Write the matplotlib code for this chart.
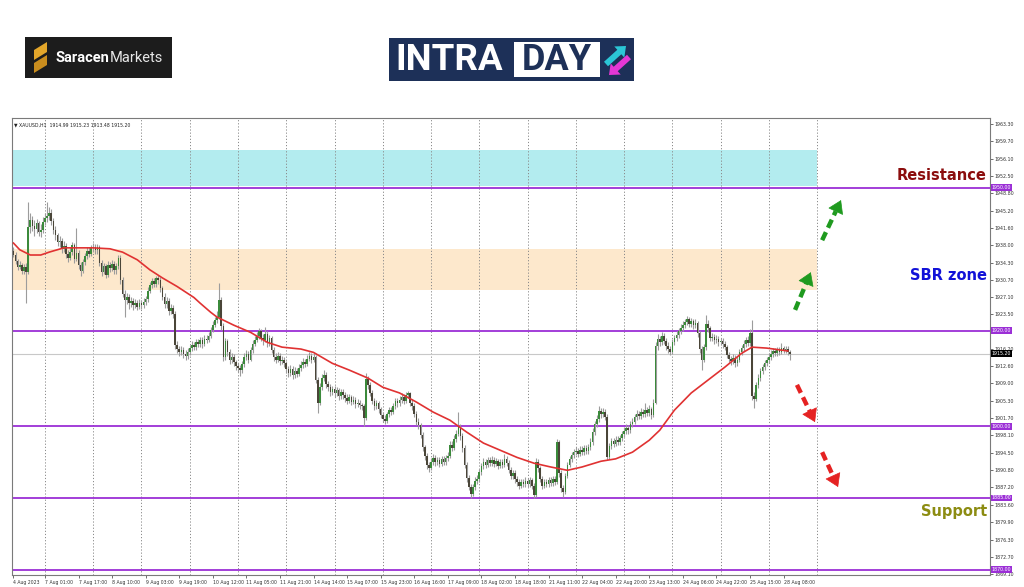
"""XAUUSD H1 intraday chart with zones, levels and arrows."""
import matplotlib

matplotlib.use("Agg")
import matplotlib.pyplot as plt
import numpy as np
from matplotlib.patches import FancyArrow, Polygon, Rectangle
from matplotlib.transforms import blended_transform_factory

# ---- data ------------------------------------------------------------------
OPEN_FIRST = 1936.8
CLOSE = [
    # 4 Aug 09:00 - 23:00
    1936.0, 1934.6, 1933.4, 1933.9, 1932.6, 1933.3, 1932.4, 1941.8, 1943.2, 1942.0,
    1941.3, 1942.6, 1940.8, 1941.2, 1942.9,
    # 7 Aug
    1943.6, 1944.1, 1944.8, 1943.0, 1941.2, 1940.0, 1938.6, 1938.9, 1937.2, 1937.8,
    1936.1, 1935.2, 1936.6, 1937.9, 1935.0, 1936.4, 1933.8, 1932.6, 1934.4, 1935.6,
    1936.8, 1936.2, 1937.3,
    # 8 Aug
    1937.6, 1936.9, 1937.5, 1934.2, 1932.4, 1933.6, 1931.8, 1933.9, 1933.1, 1934.0,
    1932.7, 1933.5, 1935.3, 1930.6, 1927.8, 1926.4, 1927.2, 1925.8, 1926.3, 1925.4,
    1925.9, 1925.1, 1925.8,
    # 9 Aug
    1925.4, 1926.0, 1926.6, 1928.4, 1929.6, 1930.4, 1929.8, 1931.0, 1930.6, 1928.9,
    1927.2, 1925.6, 1926.3, 1924.2, 1924.8, 1923.6, 1917.0, 1916.2, 1915.6, 1916.0,
    1915.2, 1914.8, 1915.6,
    # 10 Aug
    1916.4, 1917.0, 1916.6, 1917.6, 1917.3, 1918.0, 1917.2, 1918.4, 1918.1, 1919.0,
    1920.2, 1921.3, 1922.3, 1923.0, 1926.5, 1921.0, 1914.6, 1917.8, 1915.6, 1913.9,
    1914.6, 1913.4, 1912.6,
    # 11 Aug
    1912.2, 1911.8, 1913.0, 1914.6, 1915.2, 1914.0, 1916.0, 1917.3, 1918.2, 1918.9,
    1919.9, 1918.6, 1918.1, 1919.3, 1917.4, 1918.5, 1916.0, 1914.5, 1914.0, 1914.8,
    1913.6, 1913.9, 1913.2,
    # 14 Aug
    1912.0, 1911.2, 1912.1, 1910.8, 1911.6, 1911.0, 1912.3, 1912.9, 1913.5, 1913.1,
    1914.2, 1914.8, 1914.0, 1914.6, 1909.8, 1905.0, 1908.2, 1910.2, 1910.8, 1908.9,
    1908.2, 1907.1, 1907.8,
    # 15 Aug
    1907.0, 1907.6, 1906.4, 1907.2, 1906.5, 1906.0, 1905.4, 1906.1, 1905.2, 1905.6,
    1904.6, 1905.0, 1904.4, 1904.2, 1901.8, 1909.9, 1908.6, 1907.0, 1905.3, 1904.2,
    1904.9, 1903.6, 1902.4,
    # 16 Aug
    1901.6, 1901.2, 1902.5, 1903.4, 1903.0, 1904.2, 1905.3, 1904.8, 1905.6, 1906.2,
    1905.4, 1906.5, 1906.9, 1905.0, 1904.2, 1902.6, 1901.0, 1900.2, 1898.3, 1895.6,
    1893.8, 1891.9, 1891.3,
    # 17 Aug
    1892.6, 1893.4, 1892.5, 1892.9, 1892.2, 1893.1, 1892.6, 1893.4, 1893.9, 1896.2,
    1895.5, 1897.4, 1898.5, 1899.9, 1898.0, 1895.4, 1892.0, 1889.2, 1887.4, 1885.9,
    1887.3, 1888.6, 1889.0,
    # 18 Aug
    1890.4, 1891.6, 1892.6, 1892.0, 1892.9, 1892.3, 1893.0, 1892.2, 1892.7, 1891.8,
    1892.5, 1892.0, 1893.2, 1892.4, 1890.9, 1889.6, 1890.2, 1888.9, 1888.4, 1887.6,
    1888.3, 1887.9, 1888.6,
    # 21 Aug
    1888.0, 1888.7, 1887.6, 1885.6, 1892.6, 1891.2, 1889.0, 1887.6, 1888.3, 1887.9,
    1888.8, 1888.2, 1889.0, 1888.4, 1896.8, 1890.2, 1887.0, 1886.3, 1889.6, 1891.9,
    1893.2, 1894.0, 1894.6,
    # 22 Aug
    1894.9, 1894.3, 1895.1, 1894.7, 1895.4, 1894.9, 1895.6, 1896.8, 1898.9, 1900.4,
    1901.6, 1903.2, 1902.5, 1903.1, 1902.0, 1893.6, 1895.8, 1896.9, 1896.4, 1897.2,
    1896.8, 1897.6, 1898.4,
    # 23 Aug
    1899.0, 1899.6, 1899.2, 1900.4, 1901.0, 1901.9, 1902.6, 1902.2, 1903.0, 1902.6,
    1903.4, 1902.8, 1903.6, 1902.4, 1905.0, 1916.8, 1918.4, 1917.6, 1919.0, 1917.9,
    1916.9, 1916.2, 1915.6,
    # 24 Aug
    1917.6, 1918.5, 1919.2, 1919.9, 1920.6, 1921.3, 1921.8, 1922.4, 1921.5, 1922.0,
    1921.2, 1921.6, 1919.5, 1916.2, 1914.0, 1916.6, 1921.5, 1920.6, 1918.5, 1918.8,
    1918.0, 1918.4, 1917.6,
    # 25 Aug
    1917.9, 1917.2, 1916.6, 1915.0, 1914.2, 1913.6, 1914.4, 1913.2, 1914.0, 1915.6,
    1916.4, 1917.2, 1918.0, 1917.4, 1919.6, 1906.4, 1905.8, 1908.6, 1910.2, 1911.6,
    1912.4, 1913.2, 1913.9,
    # 28 Aug 01:00 - 11:00
    1914.6, 1915.2, 1915.8, 1915.3, 1916.0, 1915.6, 1916.4, 1915.9, 1916.2, 1915.6,
    1915.2,
]
HIGH = [
    1937.6, 1936.5, 1935.0, 1934.6, 1934.3, 1934.0, 1934.2, 1946.9, 1944.6, 1944.0,
    1943.2, 1943.5, 1943.0, 1942.3, 1943.8,
    1944.8, 1947.1, 1945.9, 1945.6, 1943.6, 1941.9, 1940.6, 1939.8, 1939.5, 1938.8,
    1938.4, 1936.9, 1937.5, 1938.7, 1938.4, 1941.6, 1936.9, 1934.5, 1935.1, 1936.3,
    1937.5, 1937.6, 1938.1,
    1938.4, 1938.2, 1938.3, 1938.0, 1934.8, 1934.3, 1934.1, 1934.6, 1934.5, 1934.8,
    1934.6, 1934.3, 1936.0, 1935.8, 1931.2, 1928.5, 1928.0, 1927.8, 1927.1, 1926.9,
    1926.7, 1926.5, 1926.6,
    1926.4, 1926.8, 1927.4, 1929.1, 1930.3, 1931.0, 1931.1, 1931.6, 1931.8, 1931.2,
    1929.5, 1927.9, 1927.0, 1926.8, 1925.6, 1925.4, 1924.1, 1917.8, 1916.9, 1916.8,
    1916.6, 1915.9, 1916.4,
    1917.1, 1917.8, 1917.7, 1918.3, 1918.4, 1918.8, 1918.7, 1919.1, 1919.2, 1919.8,
    1920.9, 1922.0, 1923.0, 1924.2, 1930.1, 1927.0, 1921.6, 1918.6, 1918.3, 1916.2,
    1915.4, 1915.1, 1914.0,
    1913.3, 1912.9, 1913.7, 1915.3, 1916.0, 1915.8, 1916.7, 1918.0, 1918.9, 1919.7,
    1920.6, 1920.4, 1919.4, 1920.8, 1919.9, 1919.2, 1918.9, 1916.6, 1915.3, 1915.6,
    1915.3, 1914.7, 1914.5,
    1913.8, 1912.7, 1912.9, 1912.6, 1912.4, 1912.2, 1913.0, 1913.7, 1914.3, 1914.2,
    1914.9, 1915.6, 1915.4, 1915.3, 1915.0, 1910.3, 1909.0, 1911.0, 1911.9, 1911.3,
    1909.6, 1908.9, 1908.5,
    1908.4, 1908.3, 1908.1, 1907.9, 1907.8, 1907.2, 1906.7, 1906.8, 1906.6, 1906.3,
    1906.1, 1905.7, 1905.6, 1905.0, 1904.7, 1911.2, 1910.5, 1909.2, 1907.6, 1905.9,
    1905.6, 1905.4, 1904.1,
    1903.0, 1902.3, 1903.1, 1904.1, 1904.0, 1904.9, 1906.0, 1905.9, 1906.3, 1906.9,
    1906.8, 1907.1, 1907.4, 1907.2, 1905.7, 1904.8, 1903.2, 1901.7, 1900.8, 1898.9,
    1896.2, 1894.4, 1892.6,
    1893.3, 1894.2, 1894.0, 1893.6, 1893.5, 1893.8, 1893.8, 1894.1, 1894.7, 1896.9,
    1897.0, 1898.1, 1899.3, 1903.0, 1900.5, 1898.6, 1896.0, 1892.6, 1889.9, 1888.0,
    1888.0, 1889.3, 1889.8,
    1891.1, 1892.3, 1893.3, 1893.2, 1893.6, 1893.5, 1893.8, 1893.6, 1893.4, 1893.2,
    1893.2, 1893.1, 1894.3, 1893.9, 1893.0, 1891.5, 1890.9, 1890.8, 1889.6, 1889.0,
    1889.0, 1889.0, 1889.3,
    1889.2, 1889.4, 1889.2, 1888.2, 1893.4, 1893.2, 1891.8, 1889.6, 1889.0, 1889.0,
    1889.5, 1889.4, 1889.7, 1889.6, 1897.4, 1897.2, 1890.8, 1887.8, 1890.3, 1892.6,
    1893.9, 1894.7, 1895.3,
    1895.6, 1895.5, 1895.8, 1895.8, 1896.1, 1896.0, 1896.3, 1897.5, 1899.6, 1901.1,
    1902.4, 1904.2, 1903.9, 1903.9, 1903.7, 1902.5, 1896.5, 1897.6, 1897.5, 1897.9,
    1897.9, 1898.3, 1899.1,
    1899.8, 1900.4, 1900.3, 1901.1, 1901.8, 1902.6, 1903.4, 1903.3, 1903.8, 1903.7,
    1905.0, 1904.0, 1904.4, 1904.1, 1905.8, 1917.6, 1919.3, 1919.0, 1919.8, 1919.6,
    1918.5, 1917.6, 1916.9,
    1918.3, 1919.2, 1919.9, 1920.6, 1921.4, 1922.1, 1922.6, 1923.2, 1923.0, 1922.8,
    1922.6, 1922.4, 1922.1, 1920.0, 1916.8, 1917.3, 1923.4, 1922.2, 1921.1, 1919.6,
    1919.4, 1919.1, 1919.0,
    1918.6, 1918.5, 1917.8, 1917.1, 1915.6, 1914.8, 1915.1, 1914.9, 1914.7, 1916.3,
    1917.1, 1918.0, 1918.8, 1918.9, 1920.4, 1922.2, 1907.2, 1909.3, 1910.9, 1912.3,
    1913.1, 1913.9, 1914.6,
    1915.3, 1915.9, 1916.5, 1916.4, 1916.7, 1916.6, 1917.4, 1916.9, 1916.9, 1916.8,
    1915.9,
]
LOW = [
    1935.4, 1934.0, 1932.8, 1932.9, 1932.0, 1931.9, 1925.9, 1932.0, 1940.6, 1940.9,
    1939.8, 1940.5, 1939.9, 1939.7, 1940.6,
    1942.2, 1942.8, 1943.2, 1942.2, 1940.4, 1939.1, 1937.8, 1937.6, 1936.4, 1936.5,
    1935.3, 1934.4, 1934.8, 1936.0, 1934.3, 1934.6, 1933.0, 1931.6, 1932.1, 1933.8,
    1935.0, 1935.4, 1935.7,
    1936.6, 1936.1, 1936.2, 1933.5, 1931.6, 1931.9, 1931.0, 1931.3, 1932.3, 1932.5,
    1931.9, 1932.0, 1933.0, 1929.8, 1927.0, 1923.0, 1925.6, 1924.6, 1925.0, 1924.4,
    1924.8, 1924.3, 1924.6,
    1924.5, 1924.9, 1925.4, 1926.1, 1927.9, 1929.0, 1929.1, 1929.3, 1929.9, 1928.2,
    1926.4, 1924.8, 1924.9, 1923.4, 1923.5, 1922.8, 1916.2, 1915.4, 1914.8, 1914.9,
    1914.4, 1913.9, 1914.2,
    1915.0, 1915.8, 1915.9, 1916.0, 1916.6, 1916.7, 1916.5, 1916.8, 1917.4, 1917.6,
    1918.5, 1919.7, 1920.8, 1921.6, 1922.4, 1920.2, 1913.8, 1914.0, 1914.8, 1913.0,
    1913.2, 1912.6, 1911.8,
    1911.4, 1910.6, 1911.2, 1912.5, 1914.0, 1913.3, 1913.6, 1915.4, 1916.8, 1917.6,
    1918.3, 1917.8, 1917.0, 1917.6, 1916.6, 1916.9, 1915.3, 1913.8, 1913.2, 1913.4,
    1912.9, 1913.0, 1912.4,
    1911.2, 1910.4, 1910.6, 1910.0, 1910.2, 1910.3, 1910.5, 1911.7, 1912.3, 1912.5,
    1912.6, 1913.7, 1913.3, 1913.5, 1909.0, 1902.8, 1904.4, 1907.6, 1909.6, 1908.1,
    1907.4, 1906.4, 1906.5,
    1906.2, 1906.4, 1905.6, 1905.8, 1905.7, 1905.2, 1904.6, 1904.8, 1904.5, 1904.6,
    1903.9, 1904.0, 1903.6, 1903.4, 1900.0, 1901.4, 1907.9, 1906.3, 1904.6, 1903.5,
    1903.6, 1902.9, 1901.7,
    1900.9, 1900.6, 1900.8, 1901.9, 1902.3, 1902.5, 1903.7, 1904.1, 1904.2, 1905.0,
    1904.7, 1904.9, 1905.9, 1904.3, 1903.4, 1901.9, 1900.3, 1899.4, 1897.5, 1894.8,
    1893.0, 1891.1, 1890.5,
    1890.8, 1892.0, 1891.8, 1891.9, 1891.5, 1891.7, 1891.9, 1892.0, 1892.8, 1893.4,
    1894.8, 1895.0, 1896.8, 1898.0, 1897.2, 1894.6, 1891.2, 1888.4, 1886.6, 1885.1,
    1885.4, 1886.7, 1888.0,
    1888.4, 1889.8, 1891.0, 1891.3, 1891.4, 1891.6, 1891.7, 1891.5, 1891.6, 1891.0,
    1891.2, 1891.3, 1891.5, 1891.7, 1890.2, 1888.9, 1889.0, 1888.2, 1887.6, 1886.9,
    1887.0, 1887.2, 1887.3,
    1887.3, 1887.4, 1886.9, 1884.9, 1885.2, 1890.5, 1888.3, 1886.9, 1887.0, 1887.2,
    1887.3, 1887.5, 1887.6, 1887.7, 1888.0, 1889.5, 1886.3, 1885.3, 1885.9, 1889.1,
    1891.4, 1892.6, 1893.4,
    1894.0, 1893.6, 1893.7, 1894.0, 1894.1, 1894.2, 1894.3, 1895.0, 1896.2, 1898.3,
    1899.8, 1901.0, 1901.8, 1901.9, 1901.3, 1892.9, 1893.2, 1895.2, 1895.7, 1895.8,
    1896.1, 1896.2, 1897.0,
    1897.8, 1898.4, 1898.5, 1898.6, 1899.8, 1900.4, 1901.3, 1901.5, 1901.6, 1901.9,
    1902.0, 1902.1, 1902.2, 1901.6, 1901.9, 1904.6, 1916.0, 1916.8, 1917.0, 1917.2,
    1916.1, 1915.4, 1914.9,
    1915.1, 1917.0, 1917.9, 1918.6, 1919.3, 1920.0, 1920.7, 1921.2, 1920.8, 1920.9,
    1920.5, 1920.6, 1918.8, 1915.4, 1911.8, 1913.5, 1916.1, 1919.8, 1917.8, 1917.9,
    1917.2, 1917.4, 1916.9,
    1917.0, 1916.5, 1915.9, 1914.3, 1913.5, 1912.9, 1913.0, 1912.5, 1912.6, 1913.5,
    1915.0, 1915.8, 1916.6, 1916.8, 1916.9, 1905.6, 1903.8, 1905.3, 1908.0, 1909.6,
    1911.0, 1911.8, 1912.6,
    1913.3, 1914.0, 1914.6, 1914.7, 1914.8, 1915.0, 1915.1, 1915.3, 1915.4, 1915.0,
    1914.0,
]

# moving average as drawn on the chart: (bar index, price)
MA_BAR = [0, 3, 8, 13, 17, 24, 30, 38, 46, 52, 59, 65, 71, 78, 86, 89, 94, 97, 105,
          113, 121, 128, 137, 143, 152, 160, 169, 176, 184, 192, 200, 208, 216, 224,
          232, 240, 248, 256, 264, 271, 280, 287, 295, 303, 308, 315, 323, 331, 339,
          347, 352, 359, 369]
MA_VAL = [1938.4, 1937.0, 1935.9, 1935.9, 1936.5, 1937.4, 1937.4, 1937.4, 1937.2,
          1936.5, 1934.9, 1932.8, 1931.1, 1929.3, 1927.0, 1925.8, 1923.9, 1922.9,
          1921.2, 1919.7, 1917.6, 1916.6, 1916.2, 1915.5, 1913.2, 1911.8, 1910.1,
          1908.2, 1907.0, 1905.1, 1903.0, 1901.3, 1898.8, 1896.5, 1895.0, 1893.5,
          1892.3, 1891.5, 1890.8, 1891.5, 1892.7, 1893.2, 1894.6, 1897.1, 1899.2,
          1903.4, 1907.0, 1909.7, 1912.4, 1915.3, 1916.6, 1916.4, 1915.8]

LEVELS = [1950.00, 1920.00, 1900.00, 1885.00, 1870.00]
RESISTANCE_ZONE = (1950.3, 1957.9)
SBR_ZONE = (1928.6, 1937.2)
CURRENT_PRICE = 1915.20
ZONE_END_BAR = 383

PRICE_TICKS = [1963.30, 1959.70, 1956.10, 1952.50, 1948.80, 1945.20, 1941.60,
               1938.00, 1934.30, 1930.70, 1927.10, 1923.50, 1916.20, 1912.60,
               1909.00, 1905.30, 1901.70, 1898.10, 1894.50, 1890.80, 1887.20,
               1883.60, 1879.90, 1876.30, 1872.70, 1869.10]
TIME_TICK_BARS = [0] + [15 + 16 * k for k in range(23)]
TIME_TICK_LABELS = [
    "4 Aug 2023", "7 Aug 01:00", "7 Aug 17:00", "8 Aug 10:00", "9 Aug 03:00",
    "9 Aug 19:00", "10 Aug 12:00", "11 Aug 05:00", "11 Aug 21:00", "14 Aug 14:00",
    "15 Aug 07:00", "15 Aug 23:00", "16 Aug 16:00", "17 Aug 09:00", "18 Aug 02:00",
    "18 Aug 18:00", "21 Aug 11:00", "22 Aug 04:00", "22 Aug 20:00", "23 Aug 13:00",
    "24 Aug 06:00", "24 Aug 22:00", "25 Aug 15:00", "28 Aug 08:00",
]
DAY_START_BARS = [15 + 23 * k for k in range(17)]

# arrows (bar, price) -> (bar, price)
UP_ARROWS = [((372.5, 1924.4), (380.0, 1932.3)), ((385.4, 1939.0), (394.4, 1947.4))]
DOWN_ARROWS = [((373.4, 1908.7), (382.0, 1900.9)), ((385.4, 1894.6), (393.0, 1887.3))]

PURPLE = "#9b2fd6"

fig = plt.figure(figsize=(10.24, 5.87), dpi=100)
fig.patch.set_facecolor("white")

# ---- logos ------------------------------------------------------------------
top = fig.add_axes([0, 0, 1, 1])
top.set_xlim(0, 1024)
top.set_ylim(587, 0)
top.axis("off")

top.add_patch(Rectangle((25, 37), 147, 41, fc="#1c1c1c", ec="none"))
top.add_patch(Polygon([(34, 50), (47, 42), (47, 52), (34, 60)], fc="#e3a62a", ec="none"))
top.add_patch(Polygon([(34, 63), (47, 55), (47, 65), (34, 73)], fc="#c98d1e", ec="none"))
top.text(55, 58, "Saracen", color="white", fontsize=10.5, fontweight="bold",
         family="Roboto", va="center", ha="left")
top.text(110, 58, "Markets", color="#e6e6e6", fontsize=10.5, family="Roboto",
         va="center", ha="left")

top.add_patch(Rectangle((389, 38), 245, 43, fc="#1d3058", ec="none"))
top.add_patch(Rectangle((514, 42), 86, 35, fc="white", ec="none"))
top.text(395, 60, "INTRA", color="white", fontsize=26.5, fontweight="bold",
         family="Roboto", va="center", ha="left")
top.text(557, 60, "DAY", color="#1d3058", fontsize=26, fontweight="bold",
         family="Roboto", va="center", ha="center")
top.add_patch(FancyArrow(606, 64, 20, -18, width=6, head_width=15, head_length=9,
                         length_includes_head=True, fc="#2bc6d6", ec="none"))
top.add_patch(FancyArrow(629, 57, -20, 18, width=6, head_width=15, head_length=9,
                         length_includes_head=True, fc="#e437d4", ec="none"))

# ---- chart --------------------------------------------------------------------
ax = fig.add_axes([12 / 1024, 1 - 575 / 587, 978 / 1024, 457 / 587])
ax.set_facecolor("white")
ax.set_xlim(-0.7, 465.4)
ax.set_ylim(1868.87, 1964.6)

close = np.array(CLOSE)
high = np.array(HIGH)
low = np.array(LOW)
opn = np.concatenate([[OPEN_FIRST], close[:-1]])
bars = np.arange(len(close))
up = close >= opn

# zones
ax.add_patch(Rectangle((-0.7, RESISTANCE_ZONE[0]), ZONE_END_BAR + 0.7,
                       RESISTANCE_ZONE[1] - RESISTANCE_ZONE[0],
                       fc="#b3ecef", ec="none", zorder=0.5))
ax.add_patch(Rectangle((-0.7, SBR_ZONE[0]), ZONE_END_BAR + 0.7,
                       SBR_ZONE[1] - SBR_ZONE[0],
                       fc="#fde8cc", ec="none", zorder=0.5))

for b in DAY_START_BARS:
    ax.axvline(b, color="#8a8a8a", lw=0.7, linestyle=(0, (1.2, 2)), zorder=1)

ax.axhline(CURRENT_PRICE, color="#c8c8c8", lw=0.8, zorder=1.5)
for lvl in LEVELS:
    ax.axhline(lvl, color=PURPLE, lw=1.3, zorder=2)

# candles
ax.vlines(bars, low, high, color="#9c9c9c", lw=0.8, zorder=3)
body = np.where(np.abs(close - opn) < 0.15, 0.15, close - opn)
ax.bar(bars[up], body[up], bottom=opn[up], width=0.75, color="#3b8a3b",
       linewidth=0, zorder=3.5)
ax.bar(bars[~up], body[~up], bottom=opn[~up], width=0.75, color="#4a4538",
       linewidth=0, zorder=3.5)

ax.plot(MA_BAR, MA_VAL, color="#e03232", lw=1.2, zorder=4)

# arrows
for (x0, y0), (x1, y1) in UP_ARROWS + DOWN_ARROWS:
    col = "#1f9a1f" if y1 > y0 else "#e52222"
    fx, fy = x0 + 0.72 * (x1 - x0), y0 + 0.72 * (y1 - y0)
    ax.plot([x0, fx], [y0, fy], color=col, lw=3.2, linestyle=(0, (2, 1.1)),
            solid_capstyle="butt", dash_capstyle="butt", zorder=5)
    ax.annotate("", xy=(x1, y1), xytext=(fx, fy),
                arrowprops=dict(arrowstyle="-|>,head_length=0.7,head_width=0.45",
                                color=col, lw=0.5, mutation_scale=12,
                                shrinkA=0, shrinkB=0), zorder=5)

# labels in chart
xa = blended_transform_factory(ax.transAxes, ax.transData)
ax.text(0.9968, 1952.5, "Resistance", transform=xa, ha="right", va="center",
        color="#8b0d0d", fontsize=10.5, fontweight="bold", family="DejaVu Sans",
        zorder=6)
ax.text(0.9968, 1931.7, "SBR zone", transform=xa, ha="right", va="center",
        color="#1212d8", fontsize=10.5, fontweight="bold", family="DejaVu Sans",
        zorder=6)
ax.text(0.9968, 1882.2, "Support", transform=xa, ha="right", va="center",
        color="#8c8c12", fontsize=10.5, fontweight="bold", family="DejaVu Sans",
        zorder=6)
ax.text(0.002, 0.99, "\u25bc XAUUSD,H1  1914.99 1915.23 1913.48 1915.20",
        transform=ax.transAxes, ha="left", va="top", fontsize=3.3, color="#222222")

# axes styling
for side in ["top", "bottom", "left", "right"]:
    ax.spines[side].set_color("#7a7a7a")
    ax.spines[side].set_linewidth(0.8)
ax.yaxis.tick_right()
ax.set_yticks(PRICE_TICKS)
ax.set_yticklabels([f"{p:.2f}" for p in PRICE_TICKS])
ax.tick_params(axis="y", length=2, width=0.5, pad=1, labelsize=3.4,
               colors="#333333")
ax.set_xticks(TIME_TICK_BARS)
ax.set_xticklabels(TIME_TICK_LABELS)
ax.tick_params(axis="x", length=2, width=0.5, pad=1.5, labelsize=3.3,
               colors="#333333")
for lab in ax.get_xticklabels():
    lab.set_ha("left")

for lvl in LEVELS:
    ax.text(1.0015, lvl, f"{lvl:.2f}", transform=xa, ha="left", va="center",
            fontsize=3.4, color="white", zorder=7, clip_on=False,
            bbox=dict(boxstyle="square,pad=0.2", fc=PURPLE, ec="none"))
ax.text(1.0015, CURRENT_PRICE, f"{CURRENT_PRICE:.2f}", transform=xa, ha="left",
        va="center", fontsize=3.4, color="white", zorder=7, clip_on=False,
        bbox=dict(boxstyle="square,pad=0.2", fc="black", ec="none"))

fig.savefig("out.png", dpi=100)
